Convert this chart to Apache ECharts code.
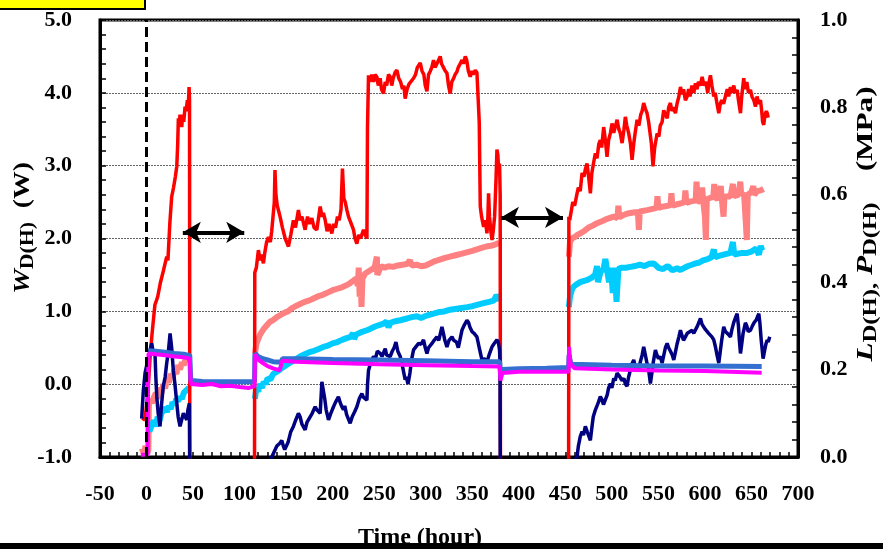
<!DOCTYPE html>
<html><head><meta charset="utf-8">
<script src="https://cdn.jsdelivr.net/npm/echarts@6/dist/echarts.min.js"></script>
<style>html,body{margin:0;padding:0;background:#fff}#c{width:883px;height:549px}</style>
</head><body><div id="c"></div>
<script>
// ---- data (x = time in hours) ----
// W_D (W), left axis
const redW = [[-4,-0.5],[-1.5,-0.45],[0,-0.3],[2,0.0],[4,0.4],[6,0.7],[9,1.09],[10.7,1.15],[12,1.2],[15,1.4],[18,1.55],[21.7,1.75],[23,1.7],[25,2.2],[27,2.57],[29,2.7],[31,2.85],[32.5,2.99],[33.5,3.3],[34.2,3.65],[35,3.55],[36,3.7],[37.8,3.53],[39,3.7],[40,3.6],[41.4,3.81],[42.5,3.75],[43.9,3.9],[44.8,3.8],[45.7,4.08],[46.2,3.9],[46.5,-1.5],
[80,-1.5],[116,-1.5],[116.3,1.53],[118,1.6],[120.2,1.84],[122,1.7],[123.5,1.78],[125.6,1.66],[127,1.8],[129,1.95],[131,2.02],[133,1.95],[134.5,2.1],[136.3,2.12],[137.3,2.5],[138,2.94],[139,2.6],[140.5,2.45],[143.5,2.3],[146,2.15],[149,2.0],[152.5,1.89],[155,2.05],[157.8,2.25],[160,2.15],[163.2,2.39],[165,2.25],[167,2.3],[170.4,2.12],[173,2.3],[175,2.2],[177.6,2.28],[180,2.15],[183,2.12],[185,2.3],[186.6,2.44],[188.5,2.3],[190,2.35],[192,2.25],[194,2.1],[196,2.2],[199.1,2.07],[201,2.2],[203,2.15],[205.2,2.3],[207,2.25],[209,2.4],[210.5,2.96],[212,2.55],[213.5,2.5],[215.3,2.39],[217,2.3],[220,2.2],[222.4,2.12],[224,2.0],[226,1.93],[228,2.05],[230,2.0],[233.1,2.12],[235,2.05],[236.8,2.0],
[237.4,3.5],[238.5,4.24],[240,4.15],[242,4.25],[244,4.15],[245.5,4.25],[247.5,4.22],[249,4.1],[251,4.2],[252.5,4.05],[254.6,3.99],[256.5,4.15],[258,4.1],[260,4.25],[261.8,4.22],[263.5,4.1],[265,4.2],[267,4.28],[269,4.31],[271,4.2],[273,4.15],[275,4.05],[276.5,4.1],[277.9,3.92],[280,4.05],[282,4.12],[284,4.1],[286.9,4.2],[289,4.25],[291,4.35],[294.1,4.41],[296,4.3],[298,4.25],[299.5,4.1],[301.3,4.02],[303,4.25],[305,4.3],[306.5,4.35],[308.4,4.45],[310,4.35],[312,4.4],[313.5,4.42],[315.6,4.5],[317,4.4],[319,4.35],[321,4.3],[322.8,4.27],[324.5,4.1],[326.3,3.99],[328,4.15],[330,4.2],[331.5,4.25],[333.5,4.29],[335,4.35],[337,4.4],[339,4.45],[340.5,4.4],[342.5,4.5],[344,4.45],[345.8,4.3],[347.8,4.22],[349.5,4.3],[351,4.25],[353.2,4.31],[355,4.28],[356.8,4.27],
[357.5,3.6],[358.6,2.44],[360,2.3],[362.2,2.16],[364,2.25],[365.8,2.07],[366.8,2.3],[367.5,2.62],[368.5,2.3],[370,2.1],[371.2,1.98],[372.5,2.1],[374,2.3],[375.5,2.8],[376.5,3.22],[377.5,3.15],[378.5,2.9],[379.3,3.03],[380,2.6],[380.3,-1.5],[420,-1.5],[453.5,-1.5],
[453.8,2.3],[454.7,2.25],[456,2.35],[458,2.5],[460,2.45],[462.6,2.62],[464,2.7],[466,2.65],[468,2.9],[470,2.85],[471.5,2.95],[473.3,3.03],[475,2.85],[476.9,2.62],[478.5,2.9],[480.5,3.05],[482.3,3.17],[484,3.1],[486,3.3],[487.6,3.35],[489,3.25],[491.2,3.53],[493,3.35],[494.8,3.12],[496.5,3.35],[498.5,3.45],[500.2,3.58],[502,3.45],[504,3.55],[505.6,3.63],[507.5,3.5],[509,3.45],[511,3.31],[513,3.5],[514.5,3.67],[516,3.55],[518,3.45],[520,3.3],[521.7,3.08],[523.5,3.3],[525,3.45],[527.1,3.63],[529,3.55],[531,3.7],[532.5,3.75],[534.2,3.86],[536,3.78],[537.8,3.72],[539.5,3.6],[541,3.45],[542.5,3.3],[544.2,2.99],[546,3.25],[548.6,3.44],[550.5,3.4],[552,3.55],[554,3.6],[555.7,3.76],[557.5,3.7],[559.5,3.65],[561,3.8],[562.9,3.86],[564.5,3.75],[566,3.8],[568.3,3.72],[570,3.85],[572,3.95],[573.7,4.08],[575.5,3.98],[577,4.05],[579,3.9],[580.9,3.95],[582.5,4.05],[584,3.95],[586,4.1],[588,4.0],[589.8,4.13],[591.5,4.05],[593,4.15],[595,4.1],[597,4.22],[599,4.1],[601,4.15],[603,4.0],[604.5,4.15],[605.9,4.24],[607.5,4.1],[609.5,3.95],[611,4.0],[613,3.85],[614.9,3.72],[616.5,3.85],[618,3.9],[620,3.85],[622,3.95],[624,4.05],[625.5,3.95],[627.4,4.08],[629,4.0],[631,4.1],[632.5,4.0],[634.6,4.04],[636,3.9],[638.2,3.72],[639.5,3.95],[641.7,4.2],[643,4.05],[645,4.15],[646.8,4.0],[648.9,4.04],[650.5,3.95],[652.5,3.9],[654.3,3.81],[656,3.95],[657.8,3.85],[659.7,3.9],[661,3.75],[662,3.6],[663.2,3.56],[664.5,3.7],[666,3.75],[666.9,3.72],[668,3.66]];

// W_H (W), left axis
const salmonW = [[-5,-0.88],[-3,-0.95],[-1,-0.85],[1,-0.95],[2,-0.9],[2.5,-0.3],[4,-0.2],[6,-0.26],[8,-0.18],[10,-0.12],[12,-0.2],[14,-0.05],[16,-0.12],[18,0.0],[20,-0.06],[22,0.08],[24,0.02],[26,0.14],[28,0.08],[30,0.2],[32,0.14],[34,0.26],[36,0.2],[38,0.3],[40,0.26],[42,0.36],[44,0.32],[46,0.42],[46.5,null],
[116.5,0.42],[118,0.55],[120,0.62],[122,0.68],[124,0.72],[126,0.76],[128,0.78],[130,0.82],[133,0.86],[136,0.88],[140,0.92],[144,0.95],[148,0.98],[152,1.0],[156,1.04],[160,1.07],[165,1.1],[170,1.13],[175,1.15],[180,1.18],[185,1.21],[190,1.23],[195,1.26],[200,1.29],[205,1.31],[210,1.33],[215,1.36],[218,1.38],[222,1.42],[225,1.45],[227,1.35],[228,1.6],[229,1.2],[230,1.5],[231,1.06],[232,1.45],[235,1.52],[240,1.56],[245,1.6],[247,1.58],[247.5,1.75],[248,1.5],[252,1.62],[256,1.6],[260,1.62],[265,1.61],[270,1.63],[275,1.64],[280,1.65],[283,1.7],[285,1.63],[290,1.64],[295,1.62],[300,1.63],[305,1.66],[310,1.69],[315,1.71],[320,1.73],[326,1.75],[332,1.77],[338,1.79],[344,1.81],[350,1.83],[355,1.85],[360,1.87],[365,1.89],[370,1.9],[375,1.92],[379,1.94],[380,null],
[453.8,1.75],[455,1.95],[457,2.0],[460,2.02],[463,2.05],[466,2.07],[470,2.1],[475,2.15],[480,2.18],[484,2.21],[490,2.24],[495,2.27],[502,2.3],[506,2.28],[507,2.45],[508,2.29],[512,2.32],[516,2.34],[519.9,2.35],[525,2.36],[528,2.36],[529,2.12],[530,2.37],[537.8,2.39],[545,2.41],[548,2.42],[549,2.58],[550,2.42],[555.7,2.44],[560,2.45],[563,2.46],[564,2.62],[565,2.45],[570,2.47],[573.7,2.48],[578,2.5],[579,2.66],[580,2.49],[585,2.51],[590,2.52],[591,2.78],[592,2.5],[595,2.52],[597,2.7],[598,2.53],[600,2.3],[601,1.98],[602,2.54],[606,2.56],[609,2.57],[610,2.75],[611,2.55],[615,2.56],[617,2.72],[618,2.56],[620,2.3],[621,2.57],[625,2.58],[627.4,2.57],[630,2.75],[631,2.58],[636,2.6],[638,2.78],[639,2.6],[642,2.62],[644,2.2],[645,1.98],[646,2.6],[650,2.64],[652,2.72],[653,2.6],[656,2.65],[660,2.66],[663,2.68]];

// L_H (MPa), right axis
const cyanL = [[3,0.058],[6,0.075],[8,0.083],[10,0.07],[12,0.092],[14,0.083],[16,0.1],[18,0.097],[20,0.113],[22,0.103],[24,0.117],[26,0.11],[28,0.125],[30,0.12],[32,0.133],[34,0.128],[36,0.138],[38,0.133],[40,0.147],[42,0.143],[44,0.155],[46,0.16],[46.5,null],
[116.5,0.133],[118,0.158],[120,0.15],[122,0.167],[124,0.158],[126,0.172],[128,0.167],[130,0.18],[133,0.177],[136,0.19],[140,0.195],[145,0.203],[150,0.21],[155,0.217],[160,0.223],[165,0.23],[170,0.235],[175,0.24],[180,0.243],[185,0.247],[190,0.252],[195,0.255],[200,0.26],[205,0.263],[210,0.268],[215,0.272],[219,0.275],[222,0.283],[223,0.27],[225,0.28],[230,0.285],[236.8,0.29],[240,0.293],[245,0.298],[250,0.302],[254.6,0.305],[258,0.31],[260,0.297],[262,0.307],[266,0.31],[272.6,0.313],[280,0.317],[285,0.32],[290.5,0.322],[295,0.318],[300,0.323],[308.4,0.328],[315,0.332],[320,0.333],[326.3,0.337],[335,0.34],[344.3,0.343],[350,0.345],[355,0.348],[362.2,0.352],[368,0.355],[373,0.358],[376,0.37],[378.3,0.363],[379.5,0.358],[380,null],
[453.8,0.343],[455,0.367],[457,0.383],[458.9,0.39],[462,0.395],[466,0.4],[470,0.403],[473.3,0.405],[478,0.41],[482,0.417],[484,0.437],[485,0.4],[488,0.425],[491,0.43],[493,0.453],[494.8,0.428],[497,0.4],[499,0.433],[501,0.375],[503,0.433],[505,0.355],[507,0.43],[510,0.433],[515,0.433],[519.9,0.435],[525,0.437],[530,0.44],[535,0.437],[540,0.442],[545,0.443],[550,0.433],[555,0.43],[560,0.437],[565,0.427],[570,0.432],[573.7,0.428],[578,0.433],[582,0.437],[586,0.44],[590,0.443],[594,0.445],[598,0.45],[603,0.453],[607,0.457],[609.5,0.475],[611,0.457],[615,0.46],[620,0.463],[627.4,0.467],[630,0.492],[631.5,0.463],[635,0.465],[640,0.467],[645.4,0.467],[650,0.47],[655,0.477],[658,0.463],[660,0.483],[661.5,0.473]];

// L_D (MPa), right axis
const navyL = [[-5.2,0.088],[-3.5,0.15],[-1.6,0.192],[0,0.208],[1.9,0.222],[3.5,0.242],[5.6,0.26],[7,0.242],[9.1,0.237],[10,0.183],[11,0.138],[12.5,0.1],[14.5,0.07],[16,0.117],[18,0.162],[20,0.183],[21.7,0.215],[23.5,0.242],[25.3,0.283],[27,0.25],[28.8,0.198],[30.5,0.167],[32.5,0.123],[34,0.092],[36,0.07],[37.5,0.083],[39.6,0.1],[41.5,0.092],[43.2,0.085],[44.5,0.108],[46,0.123],[46.6,-0.1],[100,-0.1],
[134.6,0],[136.3,0.008],[140,0.025],[143.5,0.032],[145.3,0.038],[147,0.025],[148.5,0.017],[152,0.033],[155,0.058],[157.8,0.07],[160,0.083],[163.2,0.1],[165,0.092],[167,0.075],[170.4,0.062],[172.5,0.08],[175.8,0.092],[178,0.1],[181.2,0.115],[183,0.108],[186.6,0.1],[188.4,0.172],[190.1,0.168],[191.5,0.133],[193,0.108],[195.5,0.085],[198,0.1],[200.9,0.115],[203,0.125],[206.2,0.138],[208,0.125],[209.5,0.117],[211.6,0.108],[213,0.117],[215,0.097],[218.8,0.077],[221,0.092],[223.5,0.103],[226,0.115],[228.5,0.133],[231.4,0.145],[233,0.137],[236.8,0.13],[237.5,0.167],[238.5,0.198],[241,0.217],[243.9,0.23],[246,0.225],[248,0.242],[251.1,0.237],[253,0.23],[256.5,0.248],[258,0.233],[261.8,0.23],[264,0.242],[266,0.25],[268,0.263],[270,0.242],[272.6,0.23],[275,0.208],[277.9,0.177],[279,0.183],[281,0.167],[283,0.192],[285,0.225],[286.9,0.245],[289,0.242],[292.3,0.26],[295,0.258],[297.6,0.268],[299.5,0.25],[301.3,0.237],[303,0.25],[306.7,0.26],[309,0.267],[312,0.275],[314,0.267],[317.4,0.298],[319,0.283],[320.5,0.267],[322.8,0.252],[325,0.267],[328.2,0.275],[330,0.267],[333,0.263],[335,0.25],[338.9,0.29],[341,0.3],[344.3,0.313],[346,0.308],[347.5,0.297],[349.7,0.287],[352,0.283],[355,0.275],[357.5,0.25],[360.4,0.222],[363,0.225],[365.8,0.218],[368,0.233],[371.2,0.252],[373,0.258],[376.5,0.268],[378,0.263],[379.3,0.245],[379.8,0.217],[380.2,-0.1],[420,-0.1],
[462.6,0],[464,0.025],[466.1,0.047],[468,0.058],[469.5,0.05],[471.5,0.07],[473.5,0.058],[476.9,0.038],[478.5,0.067],[480,0.092],[482.3,0.108],[484,0.117],[485.5,0.125],[487.6,0.138],[489,0.133],[491,0.12],[493,0.123],[495,0.142],[496.5,0.158],[498.4,0.168],[500,0.158],[502,0.18],[503.5,0.175],[505.6,0.192],[507.5,0.187],[509,0.183],[511,0.175],[513,0.18],[514.5,0.167],[516.3,0.162],[518,0.183],[520,0.2],[521.5,0.213],[523.5,0.222],[525,0.208],[527,0.203],[528.9,0.198],[530.5,0.217],[532.5,0.233],[534.2,0.252],[536,0.233],[537.5,0.217],[539.6,0.198],[541.4,0.168],[543,0.192],[544.5,0.217],[546.8,0.245],[548.5,0.233],[550,0.225],[552,0.23],[554,0.215],[555.5,0.23],[557.5,0.25],[559.4,0.26],[561,0.25],[563,0.242],[565,0.233],[566.5,0.222],[568,0.237],[570,0.258],[572,0.275],[573.7,0.29],[575,0.28],[577,0.267],[579,0.275],[581,0.283],[583,0.28],[586.2,0.29],[588,0.283],[590,0.287],[592,0.3],[593.5,0.308],[595.2,0.317],[597,0.303],[599,0.3],[600.5,0.292],[602.4,0.29],[604,0.283],[606,0.287],[607.5,0.275],[609.5,0.268],[611.5,0.25],[613,0.233],[614.9,0.215],[616.5,0.242],[618,0.267],[620.2,0.298],[622,0.287],[624,0.283],[625.5,0.28],[627.4,0.275],[629,0.292],[631,0.308],[632.5,0.317],[634.6,0.328],[636,0.3],[637,0.267],[638.2,0.237],[639.5,0.258],[641,0.283],[643.5,0.307],[645,0.3],[646.5,0.287],[648.9,0.29],[651,0.3],[653,0.308],[655,0.313],[657.9,0.328],[659,0.308],[660.5,0.267],[662.5,0.225],[664,0.242],[665.5,0.258],[666.9,0.268],[668,0.263],[669.6,0.275]];

// P_D (MPa), right axis
const blueP = [[2,0.243],[10,0.242],[20,0.24],[30,0.237],[40,0.235],[46.5,0.232],[47.5,0.175],[60,0.173],[80,0.172],[100,0.172],[116,0.172],[116.5,0.237],[120,0.23],[125,0.225],[130,0.222],[136,0.218],[145,0.217],[146,0.225],[160,0.225],[200,0.223],[250,0.222],[300,0.22],[350,0.218],[379.5,0.218],[380.5,0.183],[382,0.2],[400,0.202],[430,0.203],[453.5,0.205],[454,0.233],[456,0.212],[500,0.21],[550,0.208],[600,0.208],[661,0.207]];

// P_H (MPa), right axis
const magentaP = [[-6,0.005],[1.2,0.005],[1.6,0.167],[2.2,0.237],[10,0.235],[20,0.233],[30,0.23],[40,0.228],[46.5,0.225],[47.5,0.167],[60,0.165],[70,0.167],[80,0.162],[90,0.163],[100,0.16],[110,0.158],[116,0.162],[116.5,0.235],[120,0.223],[125,0.215],[130,0.208],[136,0.203],[143,0.198],[145,0.197],[145.8,0.22],[160,0.218],[200,0.215],[250,0.212],[300,0.21],[350,0.208],[379.5,0.207],[380.3,0.175],[382,0.192],[400,0.195],[430,0.195],[453.5,0.195],[454,0.252],[455.5,0.213],[460,0.203],[500,0.2],[550,0.198],[600,0.197],[661,0.193]];

// annotations (data units)
const dashedX = 0;
const arrows = [[39,105,2.085],[380.8,447.5,2.29]];

const FONT = '"Liberation Serif","Times New Roman",serif';
const lbl = {fontFamily: FONT, fontWeight: 'bold', fontSize: 22, color: '#000'};
const tickStyle = {color: '#000', width: 1.5};

function line(name, data, color, width, yi) {
  return {name, type: 'line', data, yAxisIndex: yi, showSymbol: false, symbol: 'none',
    lineStyle: {color, width}, itemStyle: {color}, connectNulls: false, clip: true, animation: false};
}
function rich(main, sub) {
  const base = {fontFamily: FONT, fontWeight: 'bold', fill: '#000', lineHeight: 30};
  return {
    i: Object.assign({}, base, {fontStyle: 'italic', fontSize: main}),
    s: Object.assign({}, base, {fontSize: sub, verticalAlign: 'bottom'}),
    n: Object.assign({}, base, {fontSize: main})
  };
}

const chart = echarts.init(document.getElementById('c'), null, {renderer: 'canvas'});
chart.setOption({
  animation: false,
  backgroundColor: '#fff',
  grid: {left: 100, right: 85, top: 20, bottom: 92, show: true, borderColor: '#000', borderWidth: 3},
  xAxis: {type: 'value', min: -50, max: 700, interval: 50,
    axisLine: {onZero: false, lineStyle: {color: '#000', width: 3}},
    axisTick: {inside: true, length: 5, lineStyle: tickStyle},
    minorTick: {show: true, splitNumber: 5, length: 5, lineStyle: tickStyle},
    axisLabel: Object.assign({}, lbl, {margin: 26}),
    splitLine: {show: false}},
  yAxis: [
    {type: 'value', min: -1, max: 5, interval: 1, position: 'left',
      axisLine: {show: true, onZero: false, lineStyle: {color: '#000', width: 3}},
      axisTick: {show: true, inside: true, length: 6, lineStyle: tickStyle},
      minorTick: {show: true, splitNumber: 5, length: 6, lineStyle: tickStyle},
      axisLabel: Object.assign({}, lbl, {margin: 28, formatter: v => v.toFixed(1)}),
      splitLine: {show: true, lineStyle: {color: '#666', type: [2, 1], width: 1}}},
    {type: 'value', min: 0, max: 1, interval: 0.2, position: 'right',
      axisLine: {show: true, onZero: false, lineStyle: {color: '#000', width: 3}},
      axisTick: {show: true, inside: true, length: 6, lineStyle: tickStyle},
      minorTick: {show: true, splitNumber: 5, length: 6, lineStyle: tickStyle},
      axisLabel: Object.assign({}, lbl, {margin: 22, formatter: v => v.toFixed(1)}),
      splitLine: {show: false}}
  ],
  series: [
    line('W_H', salmonW, '#FF8080', 6, 0),
    line('L_H', cyanL, '#00CCFF', 6, 1),
    line('W_D', redW, '#FF0000', 3.5, 0),
    line('L_D', navyL, '#000080', 3.5, 1),
    line('P_D', blueP, '#3370D0', 5, 1),
    line('P_H', magentaP, '#FF00FF', 4, 1),
    {type: 'line', data: [], yAxisIndex: 0, silent: true, z: 5,
      markLine: {silent: true, animation: false, symbol: 'none', label: {show: false},
        lineStyle: {color: '#000', type: [10, 5], width: 3},
        data: [{xAxis: dashedX}]}},
    {type: 'line', data: [], yAxisIndex: 0, silent: true,
      markLine: {silent: true, animation: false, symbol: ['arrow', 'arrow'], symbolSize: [16, 18],
        label: {show: false}, lineStyle: {color: '#000', type: 'solid', width: 4},
        data: arrows.map(a => [{coord: [a[0], a[2]]}, {coord: [a[1], a[2]]}])}}
  ],
  graphic: [
    {type: 'rect', shape: {x: -2, y: -2, width: 147, height: 11}, style: {fill: '#FFFF00', stroke: '#000', lineWidth: 2}, z: 100},
    {type: 'text', x: 420, y: 538, z: 50,
      style: {text: 'Time (hour)', fontFamily: FONT, fontWeight: 'bold', fontSize: 24, fill: '#000', align: 'center', verticalAlign: 'middle'}},
    {type: 'rect', shape: {x: 0, y: 543, width: 883, height: 6}, style: {fill: '#000'}, z: 100},
    {type: 'text', x: 23, y: 228, rotation: Math.PI / 2, scaleX: 1.15, z: 50,
      style: {text: '{i|W}{s|D(H)}{n|  (W)}', align: 'center', verticalAlign: 'middle', rich: rich(24, 19)}},
    {type: 'text', x: 866, y: 224, rotation: Math.PI / 2, scaleX: 1.3, z: 50,
      style: {text: '{i|L}{s|D(H),}{n| }{i|P}{s|D(H)}{n|    (MPa)}', align: 'center', verticalAlign: 'middle', rich: rich(24, 19)}}
  ]
});
</script></body></html>
